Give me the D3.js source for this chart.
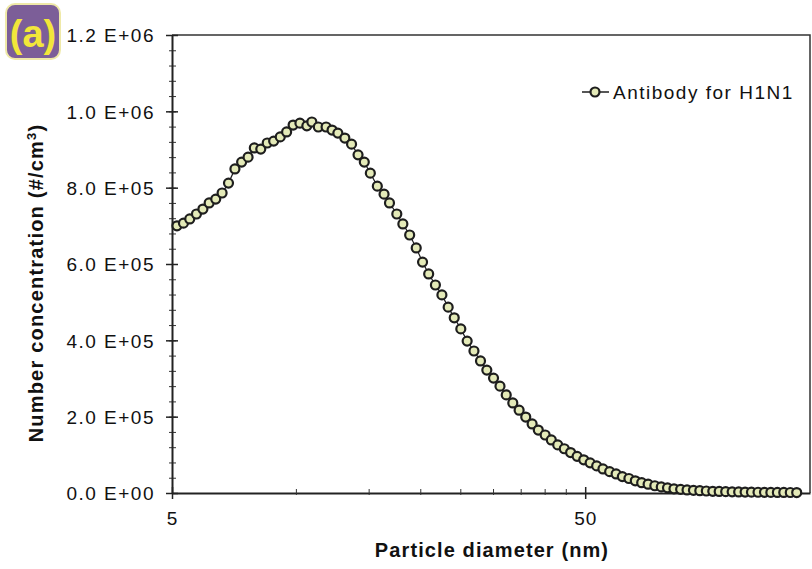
<!DOCTYPE html>
<html>
<head>
<meta charset="utf-8">
<script src="https://cdn.jsdelivr.net/npm/d3@7"></script>
<style>
  body { margin: 0; background: #fff; }
  text { font-family: "Liberation Sans", Arial, sans-serif; fill: #111; }
</style>
</head>
<body>
<script>
//Size distribution of the aerosolised antibody, log x axis

var W = 812;
var H = 569;
var Left = 172;
var Right = 810;
var Top = 35;
var Bottom = 493;

//Channel diameters (nm) and number concentration (#/cm3)
var diameters = [5.14, 5.33, 5.52, 5.73, 5.94, 6.15, 6.38, 6.61, 6.85, 7.1,
  7.37, 7.64, 7.91, 8.2, 8.5, 8.81, 9.14, 9.47, 9.82, 10.2,
  10.6, 10.9, 11.3, 11.8, 12.2, 12.6, 13.1, 13.6, 14.1, 14.6,
  15.1, 15.7, 16.3, 16.8, 17.5, 18.1, 18.8, 19.5, 20.2, 20.9,
  21.7, 22.5, 23.3, 24.1, 25.0, 25.9, 26.9, 27.9, 28.9, 30.0,
  31.1, 32.2, 33.4, 34.6, 35.9, 37.2, 38.5, 40.0, 41.4, 42.9,
  44.5, 46.1, 47.8, 49.6, 51.4, 53.3, 55.2, 57.3, 59.4, 61.5,
  63.8, 66.1, 68.5, 71.0, 73.7, 76.4, 79.1, 82.0, 85.1, 88.2,
  91.4, 94.7, 98.2, 101.8, 105.5, 109.4, 113.4, 117.6, 121.9, 126.3,
  131.0, 135.8, 140.7, 145.9, 151.2, 156.8, 162.5];
var concentration = [700000, 707000, 718000, 731000, 744000, 760000, 770000, 786000, 812000, 849000,
  867000, 880000, 904000, 901000, 917000, 922000, 933000, 946000, 964000, 969000,
  962000, 972000, 959000, 959000, 951000, 943000, 930000, 914000, 886000, 867000,
  838000, 804000, 783000, 760000, 731000, 705000, 676000, 642000, 605000, 574000,
  545000, 519000, 487000, 459000, 430000, 398000, 372000, 346000, 322000, 301000,
  280000, 257000, 236000, 217000, 199000, 181000, 165000, 152000, 139000, 126000,
  116000, 106000, 96000, 87000, 79000, 71000, 63000, 56000, 50000, 43000,
  38000, 32000, 27000, 23000, 19000, 16000, 13500, 11000, 9500, 8000,
  7000, 6000, 5200, 4500, 4000, 3500, 3000, 2700, 2400, 2200,
  2000, 1800, 1600, 1500, 1400, 1300, 1200];

var yTicks = [0, 200000, 400000, 600000, 800000, 1000000, 1200000];
var yTickLabels = ["0.0 E+00", "2.0 E+05", "4.0 E+05", "6.0 E+05", "8.0 E+05", "1.0 E+06", "1.2 E+06"];
var xTicks = [5, 50];
var xMinorTicks = [10, 15, 20, 25, 30, 35, 40, 45, 100, 150];
var seriesName = "Antibody for H1N1";

var markerFill = "#e4eab8";
var markerStroke = "#1e1e1e";

function main() {
  var svg = d3.select("body").append("svg")
    .attr("width", W)
    .attr("height", H);

  var data = diameters.map(function(d, i) { return [d, concentration[i]]; });

  var xScale = d3.scaleLog().domain([5, 175]).range([Left, Right]);
  var yScale = d3.scaleLinear().domain([0, 1200000]).range([Bottom, Top]);

  drawFrame(svg);
  drawAxes(svg, xScale, yScale);
  drawSeries(svg, data, xScale, yScale);
  drawLegend(svg);
  drawTitles(svg);
  drawBadge(svg);
}

function drawFrame(svg) {
  //Top and right edges of the plot box
  svg.append("path")
    .attr("d", "M" + Left + "," + Top + "H" + Right + "V" + Bottom)
    .attr("fill", "none")
    .attr("stroke", "#333")
    .attr("stroke-width", 1.5);
}

function drawAxes(svg, xScale, yScale) {
  //Minor ticks on y every 4E+04, crossing the axis line
  var yMinor = d3.range(0, 1200001, 40000);
  var yAxisMinor = d3.axisLeft(yScale).tickValues(yMinor)
    .tickSize(4).tickFormat("");
  var gm = svg.append("g")
    .attr("transform", "translate(" + (Left + 4) + ",0)")
    .call(yAxisMinor);
  gm.select(".domain").remove();
  gm.selectAll("line").attr("stroke", "#333")
    .attr("x1", 0).attr("x2", -7).attr("stroke-width", 1);

  var yAxis = d3.axisLeft(yScale).tickValues(yTicks)
    .tickSize(0).tickPadding(17)
    .tickFormat(function(d, i) { return yTickLabels[i]; });
  var gy = svg.append("g")
    .attr("transform", "translate(" + Left + ",0)")
    .call(yAxis);
  gy.select(".domain").attr("stroke", "#222").attr("stroke-width", 2);
  gy.selectAll("text").attr("font-size", 19).attr("letter-spacing", 1.5)
    .attr("dy", "0.36em");
  gy.selectAll(".tick").append("line")
    .attr("x1", -6).attr("x2", 6)
    .attr("stroke", "#222").attr("stroke-width", 1.5);

  //X axis, log scale
  var xAxis = d3.axisBottom(xScale).tickValues(xTicks)
    .tickSize(0).tickPadding(19)
    .tickFormat(d3.format("d"));
  var gx = svg.append("g")
    .attr("transform", "translate(0," + Bottom + ")")
    .call(xAxis);
  gx.select(".domain").attr("stroke", "#222").attr("stroke-width", 2);
  gx.selectAll("text").attr("font-size", 19).attr("letter-spacing", 1)
    .attr("dy", "0.71em");
  gx.selectAll(".tick").append("line")
    .attr("y1", -6).attr("y2", 6)
    .attr("stroke", "#222").attr("stroke-width", 1.5);

  svg.append("g").selectAll("line")
    .data(xMinorTicks)
    .enter()
    .append("line")
    .attr("x1", function(d) { return xScale(d); })
    .attr("x2", function(d) { return xScale(d); })
    .attr("y1", Bottom - 4)
    .attr("y2", Bottom + 2)
    .attr("stroke", "#333")
    .attr("stroke-width", 1);
}

function drawSeries(svg, data, xScale, yScale) {
  var line = d3.line()
    .x(function(d) { return xScale(d[0]); })
    .y(function(d) { return yScale(d[1]); });

  svg.append("path")
    .datum(data)
    .attr("d", line)
    .attr("fill", "none")
    .attr("stroke", markerStroke)
    .attr("stroke-width", 1.2);

  svg.selectAll("circle.pt")
    .data(data)
    .enter()
    .append("circle")
    .attr("class", "pt")
    .attr("cx", function(d) { return xScale(d[0]); })
    .attr("cy", function(d) { return yScale(d[1]); })
    .attr("r", 4.5)
    .attr("fill", markerFill)
    .attr("stroke", markerStroke)
    .attr("stroke-width", 2.2);
}

function drawLegend(svg) {
  var g = svg.append("g").attr("transform", "translate(582,92)");
  g.append("line")
    .attr("x1", 0).attr("x2", 27)
    .attr("stroke", markerStroke).attr("stroke-width", 1.5);
  g.append("circle")
    .attr("cx", 13).attr("r", 4.5)
    .attr("fill", markerFill)
    .attr("stroke", markerStroke).attr("stroke-width", 2.2);
  g.append("text")
    .attr("x", 31).attr("dy", "0.36em")
    .attr("font-size", 19)
    .attr("letter-spacing", 1.5)
    .text(seriesName);
}

function drawTitles(svg) {
  svg.append("text")
    .attr("x", 492)
    .attr("y", 557)
    .attr("text-anchor", "middle")
    .attr("font-size", 20)
    .attr("font-weight", "bold")
    .attr("letter-spacing", 1.1)
    .text("Particle diameter (nm)");

  var t = svg.append("text")
    .attr("transform", "translate(43,283) rotate(-90)")
    .attr("text-anchor", "middle")
    .attr("font-size", 20)
    .attr("font-weight", "bold")
    .attr("letter-spacing", 1.2);
  t.append("tspan").text("Number concentration (#/cm");
  t.append("tspan").attr("baseline-shift", "super").attr("font-size", 13).text("3");
  t.append("tspan").text(")");
}

function drawBadge(svg) {
  //The panel letter "(a)" in its purple box
  svg.append("rect")
    .attr("x", 6).attr("y", 4)
    .attr("width", 54).attr("height", 55)
    .attr("rx", 9)
    .attr("fill", "#7c5e98")
    .attr("stroke", "#efe9a8")
    .attr("stroke-width", 2);
  svg.append("text")
    .attr("x", 33).attr("y", 47)
    .attr("text-anchor", "middle")
    .attr("font-size", 38)
    .attr("font-weight", "bold")
    .style("fill", "#f2e63a")
    .text("(a)");
}

main();
</script>
</body>
</html>
